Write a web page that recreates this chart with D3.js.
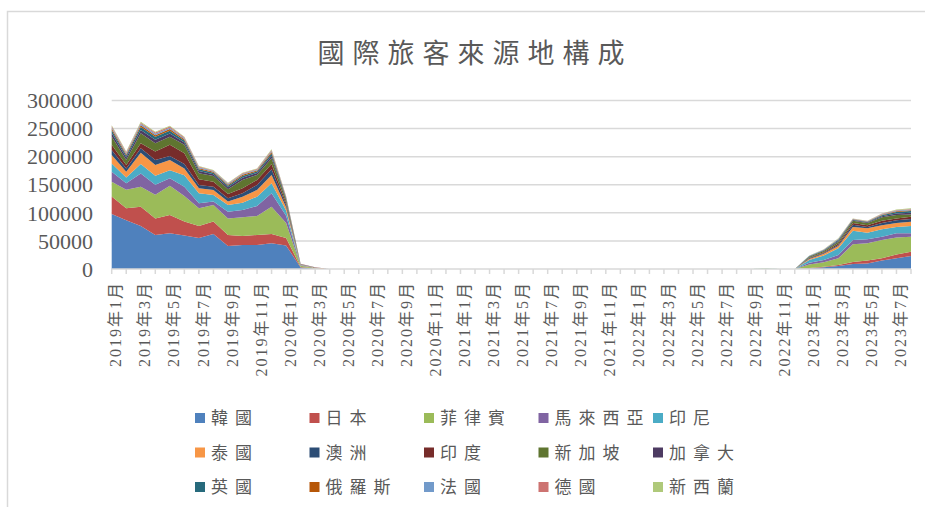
<!DOCTYPE html>
<meta charset="utf-8">
<style>
body { margin: 0; background: #fff; }
text { fill: #595959; }
.title { font-family: "Noto Sans CJK TC", sans-serif; font-size: 27px; letter-spacing: 8px; }
.ylab { font-family: "Liberation Serif", "Noto Sans CJK TC", serif; font-size: 22px; }
.xlab { font-family: "Liberation Serif", "Noto Sans CJK TC", serif; font-size: 16px; letter-spacing: 2px; }
.leg { font-family: "Noto Sans CJK TC", sans-serif; font-size: 17px; letter-spacing: 7px; }
</style>
<body>
<svg width="925" height="507"></svg>
</body>
<script src="https://cdn.jsdelivr.net/npm/d3@7"></script>
<script>

// months 2019-01 .. 2023-08
var months = [];
[2019, 2020, 2021, 2022, 2023].forEach(function(y) {
  for (var m = 1; m <= 12; m++) {
    if (y == 2023 && m > 8) break;
    months.push(y + "年" + m + "月");
  }
});

var names = ["韓國", "日本", "菲律賓", "馬來西亞", "印尼", "泰國", "澳洲", "印度",
             "新加坡", "加拿大", "英國", "俄羅斯", "法國", "德國", "新西蘭"];

var colors = ["#4F81BD", "#C0504D", "#9BBB59", "#8064A2", "#4BACC6", "#F79646",
              "#2C4D75", "#772C2A", "#5F7530", "#4D3B62", "#276A7C", "#B65708",
              "#729ACA", "#CD7371", "#AFC97A"];

var yTicks = [0, 50000, 100000, 150000, 200000, 250000, 300000];

// values (2020-04 .. 2022-08 are zero)
var korea = [98000, 87000, 76600, 60600, 63600, 59500, 55000, 62400, 41000, 42900, 42900, 45800, 42000, 2800, 600,
  0,0,0,0,0,0,0,0,0,0,0,0,0,0,0,0,0,0,0,0,0,0,0,0,0,0,0,0,0,
  0, 100, 0, 0, 1000, 3000, 5300, 9000, 10000, 15000, 19000, 23000];
var japan = [31000, 21000, 34400, 29400, 32400, 24900, 21700, 22000, 19600, 16000, 17700, 16600, 13000, 900, 200,
  0,0,0,0,0,0,0,0,0,0,0,0,0,0,0,0,0,0,0,0,0,0,0,0,0,0,0,0,0,
  0, 100, 0, 0, 1000, 1000, 1700, 3500, 5000, 4000, 7000, 7900];
var philippines = [26500, 33000, 35600, 42000, 52000, 45600, 31300, 29600, 29400, 33100, 33800, 48600, 27000, 2200, 1200,
  0,0,0,0,0,0,0,0,0,0,0,0,0,0,0,0,0,0,0,0,0,0,0,0,0,0,0,0,0,
  200, 800, 100, 0, 6000, 8000, 12000, 31500, 30700, 32600, 30000, 26600];
var malaysia = [17500, 11500, 23400, 18000, 13500, 16600, 9000, 6000, 12000, 13000, 17600, 23800, 13000, 800, 200,
  0,0,0,0,0,0,0,0,0,0,0,0,0,0,0,0,0,0,0,0,0,0,0,0,0,0,0,0,0,
  0, 100, 0, 0, 3000, 4000, 6000, 7600, 7100, 5900, 7500, 6000];
var indonesia = [15000, 10500, 17000, 16000, 14500, 20400, 17800, 11800, 12000, 13000, 16800, 17700, 9000, 500, 200,
  0,0,0,0,0,0,0,0,0,0,0,0,0,0,0,0,0,0,0,0,0,0,0,0,0,0,0,0,0,
  0, 200, 0, 0, 5000, 8000, 11800, 16400, 11800, 13100, 11500, 13000];
var thailand = [15000, 10000, 20000, 19000, 18000, 12000, 8900, 8900, 6000, 10800, 11900, 14900, 6000, 400, 100,
  0,0,0,0,0,0,0,0,0,0,0,0,0,0,0,0,0,0,0,0,0,0,0,0,0,0,0,0,0,
  0, 100, 0, 0, 2000, 3000, 4200, 7000, 7800, 7400, 7000, 7500];
var australia = [9000, 6000, 8000, 9000, 7000, 8000, 5900, 5900, 6000, 6000, 8900, 10100, 4000, 300, 100,
  0,0,0,0,0,0,0,0,0,0,0,0,0,0,0,0,0,0,0,0,0,0,0,0,0,0,0,0,0,
  0, 0, 0, 0, 1000, 1500, 1700, 4000, 2600, 4000, 5000, 5000];
var india = [9000, 6000, 9000, 15000, 20000, 19000, 10100, 8900, 7600, 8900, 8900, 9500, 4000, 300, 100,
  0,0,0,0,0,0,0,0,0,0,0,0,0,0,0,0,0,0,0,0,0,0,0,0,0,0,0,0,0,
  0, 0, 0, 0, 1000, 1500, 2900, 3000, 3000, 4000, 3000, 4000];
var singapore = [15000, 9000, 17500, 15000, 14600, 15000, 10700, 10100, 8400, 14800, 8900, 10000, 5000, 300, 100,
  0,0,0,0,0,0,0,0,0,0,0,0,0,0,0,0,0,0,0,0,0,0,0,0,0,0,0,0,0,
  0, 0, 0, 0, 2000, 2000, 3000, 4000, 4000, 6000, 6000, 4000];
var canada = [6000, 4500, 6200, 6100, 5800, 4400, 3900, 3200, 3500, 3900, 3500, 4800, 2100, 200, 100,
  0,0,0,0,0,0,0,0,0,0,0,0,0,0,0,0,0,0,0,0,0,0,0,0,0,0,0,0,0,
  0, 0, 0, 0, 600, 900, 1800, 1200, 1200, 2100, 3000, 3300];
var uk = [5000, 3800, 5100, 5200, 4900, 3600, 3300, 2700, 2900, 3300, 2900, 4000, 1800, 200, 50,
  0,0,0,0,0,0,0,0,0,0,0,0,0,0,0,0,0,0,0,0,0,0,0,0,0,0,0,0,0,
  0, 0, 0, 0, 500, 800, 1500, 1000, 1000, 1800, 2500, 2800];
var russia = [3000, 2200, 3100, 3000, 2900, 2200, 1900, 1600, 1800, 1900, 1700, 2400, 1000, 100, 20,
  0,0,0,0,0,0,0,0,0,0,0,0,0,0,0,0,0,0,0,0,0,0,0,0,0,0,0,0,0,
  0, 0, 0, 0, 200, 300, 600, 500, 500, 800, 1200, 1300];
var france = [2500, 1800, 2500, 2500, 2300, 1800, 1600, 1300, 1400, 1600, 1400, 1900, 800, 100, 30,
  0,0,0,0,0,0,0,0,0,0,0,0,0,0,0,0,0,0,0,0,0,0,0,0,0,0,0,0,0,
  0, 0, 0, 0, 300, 400, 800, 500, 500, 900, 1300, 1400];
var germany = [2000, 1500, 2000, 2100, 2000, 1500, 1300, 1100, 1200, 1300, 1200, 1600, 700, 100, 30,
  0,0,0,0,0,0,0,0,0,0,0,0,0,0,0,0,0,0,0,0,0,0,0,0,0,0,0,0,0,
  0, 0, 0, 0, 200, 300, 700, 400, 400, 800, 1100, 1200];
var newZealand = [1500, 1200, 1600, 1600, 1500, 1100, 1000, 800, 900, 1000, 900, 1300, 600, 50, 20,
  0,0,0,0,0,0,0,0,0,0,0,0,0,0,0,0,0,0,0,0,0,0,0,0,0,0,0,0,0,
  0, 0, 0, 0, 200, 300, 600, 400, 400, 600, 900, 1000];

var series = [korea, japan, philippines, malaysia, indonesia, thailand, australia, india,
              singapore, canada, uk, russia, france, germany, newZealand];

var rows = months.map(function(m, i) {
  var r = { month: m };
  names.forEach(function(n, k) { r[n] = series[k][i]; });
  return r;
});

var svg = d3.select("svg");

svg.append("rect")
    .attr("x", 7.5).attr("y", 11.5)
    .attr("width", 940).attr("height", 520)
    .attr("fill", "#fff")
    .attr("stroke", "#d9d9d9")
    .attr("stroke-width", 1.5);

svg.append("text")
    .attr("class", "title")
    .attr("x", 475)
    .attr("y", 63)
    .attr("text-anchor", "middle")
    .text("國際旅客來源地構成");

var x = d3.scalePoint()
    .domain(months)
    .range([111.7, 911]);

var y = d3.scaleLinear()
    .domain([0, 300000])
    .range([269, 100.5]);

// gridlines
svg.append("g")
  .selectAll("line")
  .data(yTicks.slice(1))
  .enter().append("line")
    .attr("x1", 111.7).attr("x2", 911)
    .attr("y1", function(d) { return y(d); })
    .attr("y2", function(d) { return y(d); })
    .attr("stroke", "#d9d9d9")
    .attr("stroke-width", 1.5);

svg.append("g")
  .selectAll("text")
  .data(yTicks)
  .enter().append("text")
    .attr("class", "ylab")
    .attr("x", 93)
    .attr("y", function(d) { return y(d); })
    .attr("dy", "0.35em")
    .attr("text-anchor", "end")
    .text(function(d) { return d; });

var stack = d3.stack().keys(names);

var area = d3.area()
    .x(function(d) { return x(d.data.month); })
    .y0(function(d) { return y(d[0]); })
    .y1(function(d) { return y(d[1]); });

svg.append("g")
  .selectAll("path")
  .data(stack(rows))
  .enter().append("path")
    .attr("fill", function(d, i) { return colors[i]; })
    .attr("d", area);

// category axis
svg.append("line")
    .attr("x1", 111.7).attr("x2", 911)
    .attr("y1", 269).attr("y2", 269)
    .attr("stroke", "#d9d9d9")
    .attr("stroke-width", 1.5);

svg.append("g")
  .selectAll("line")
  .data(months)
  .enter().append("line")
    .attr("x1", function(d) { return x(d); })
    .attr("x2", function(d) { return x(d); })
    .attr("y1", 269).attr("y2", 274)
    .attr("stroke", "#d9d9d9")
    .attr("stroke-width", 1.5);

svg.append("g")
  .selectAll("text")
  .data(months.filter(function(d, i) { return i % 2 == 0; }))
  .enter().append("text")
    .attr("class", "xlab")
    .attr("transform", function(d) { return "translate(" + (x(d) + 4) + ",281) rotate(-90)"; })
    .attr("dy", "0.35em")
    .attr("text-anchor", "end")
    .text(function(d) { return d; });

// legend
var leg = svg.append("g")
  .selectAll("g")
  .data(names)
  .enter().append("g")
    .attr("transform", function(d, i) {
      return "translate(" + (195 + 114.5 * (i % 5)) + "," + (418 + 34.5 * Math.floor(i / 5)) + ")";
    });

leg.append("rect")
    .attr("x", 0).attr("y", -5)
    .attr("width", 10).attr("height", 10)
    .attr("fill", function(d, i) { return colors[i]; });

leg.append("text")
    .attr("class", "leg")
    .attr("x", 16)
    .attr("dy", "0.36em")
    .text(function(d) { return d; });

</script>
